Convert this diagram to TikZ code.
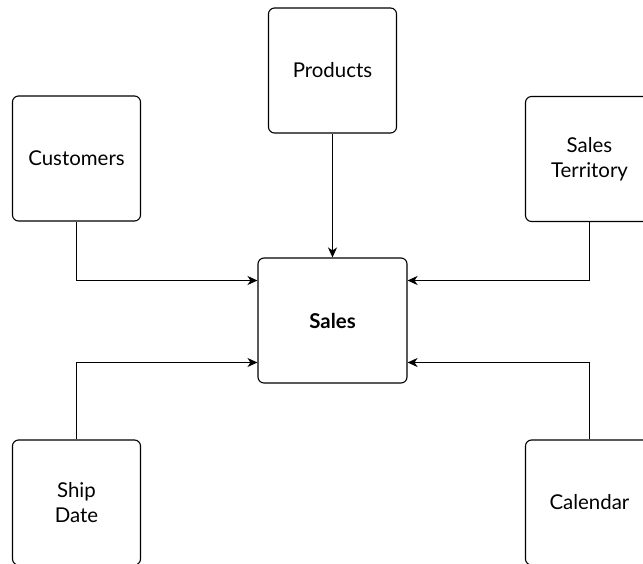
\documentclass[tikz,border=0pt]{standalone}
\usepackage{fontspec}
\setmainfont{Lato}
\usetikzlibrary{arrows.meta}
\begin{document}
\begin{tikzpicture}[x=1bp,y=-1bp,
  box/.style={draw, line width=1.1bp, rounded corners=6bp, minimum width=128bp, minimum height=125bp, inner sep=0pt, align=center, font=\fontsize{20.5}{25}\selectfont},
  conn/.style={line width=1.1bp, -{Stealth[length=10bp,width=9bp,inset=3bp]}}]
\useasboundingbox (0,0) rectangle (643,564);
\clip (0,0) rectangle (643,564);
\node[box] (products) at (332.5,70.5) {Products};
\node[box] (customers) at (76.5,158.5) {Customers};
\node[box] (territory) at (589.5,159) {Sales\\Territory};
\node[box, minimum width=149bp, font=\fontsize{20.5}{25}\selectfont\bfseries] (sales) at (332.5,320.5) {Sales};
\node[box] (shipdate) at (76.5,502.5) {Ship\\Date};
\node[box] (calendar) at (589.5,502.5) {Calendar};
\draw[conn] (products.south) -- (sales.north);
\draw[conn] (customers.south) |- ([yshift=40bp]sales.west);
\draw[conn] (shipdate.north) |- ([yshift=-42bp]sales.west);
\draw[conn] (territory.south) |- ([yshift=40bp]sales.east);
\draw[conn] (calendar.north) |- ([yshift=-42bp]sales.east);
\end{tikzpicture}
\end{document}
